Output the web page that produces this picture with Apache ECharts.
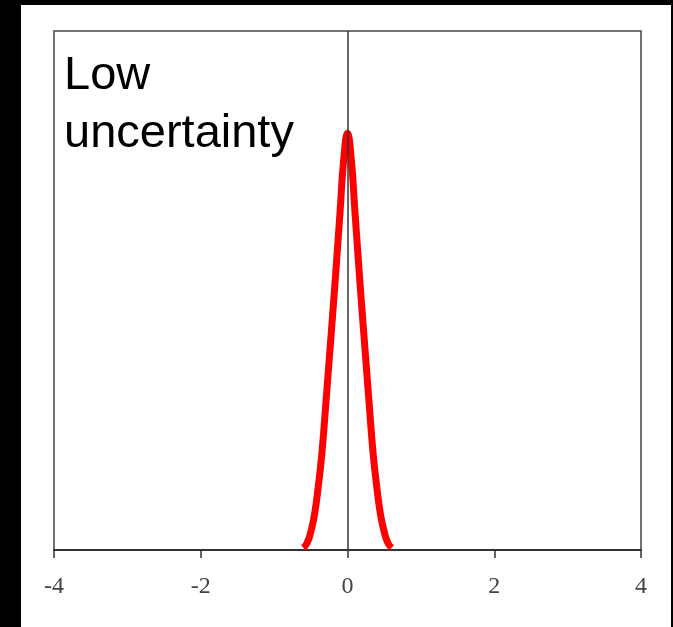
<!DOCTYPE html>
<html>
<head>
<meta charset="utf-8">
<script src="https://cdn.jsdelivr.net/npm/echarts@6/dist/echarts.min.js"></script>
<style>
  html, body { margin: 0; padding: 0; background: #000; }
  #wrap { position: relative; width: 673px; height: 627px; background: #000; }
  #paper { position: absolute; left: 21px; top: 5px; width: 650px; height: 622px; background: #fff; }
  #chart { position: absolute; left: 0; top: 0; width: 673px; height: 627px; }
</style>
</head>
<body>
<div id="wrap">
  <div id="paper"></div>
  <div id="chart"></div>
</div>
<script>
// x positions of the density curve
var xValues = [-0.6, -0.55, -0.5, -0.45, -0.4, -0.35, -0.3, -0.25, -0.2, -0.15, -0.1, -0.05,
  0, 0.05, 0.1, 0.15, 0.2, 0.25, 0.3, 0.35, 0.4, 0.45, 0.5, 0.55, 0.6];
// density
var density = [0.01, 0.034, 0.087, 0.17, 0.30, 0.46, 0.68, 0.91, 1.14, 1.38, 1.63, 1.88,
  2.0, 1.88, 1.63, 1.38, 1.14, 0.91, 0.68, 0.46, 0.30, 0.17, 0.087, 0.034, 0.01];
var xTicks = [-4, -2, 0, 2, 4];
var title = "Low\nuncertainty";

var chart = echarts.init(document.getElementById("chart"));
var option = {
  backgroundColor: "transparent",
  animation: false,
  grid: {
    left: 54,
    right: 32,
    top: 31,
    bottom: 77,
    show: true,
    borderColor: "#444",
    borderWidth: 1.5
  },
  xAxis: {
    type: "value",
    min: xTicks[0],
    max: xTicks[xTicks.length - 1],
    interval: 2,
    axisLine: { show: true, onZero: false, lineStyle: { color: "#333", width: 2 } },
    axisTick: { show: true, length: 8, lineStyle: { color: "#333", width: 1.5 } },
    axisLabel: {
      margin: 25,
      color: "#444",
      fontFamily: "Liberation Serif",
      fontSize: 24
    },
    splitLine: { show: false }
  },
  yAxis: {
    type: "value",
    min: 0,
    max: 2.49,
    show: false
  },
  graphic: [
    {
      type: "text",
      left: 64,
      top: 47,
      style: {
        text: title,
        font: "47px 'Liberation Sans'",
        fill: "#000",
        lineHeight: 58
      }
    }
  ],
  series: [
    {
      type: "line",
      data: xValues.map(function (x, i) { return [x, density[i]]; }),
      smooth: true,
      symbol: "none",
      lineStyle: { color: "#ff0000", width: 7 },
      z: 3,
      markLine: {
        silent: true,
        symbol: "none",
        label: { show: false },
        lineStyle: { color: "#333", width: 1.5, type: "solid" },
        data: [{ xAxis: 0 }],
        z: 4
      }
    }
  ]
};
chart.setOption(option);
</script>
</body>
</html>
